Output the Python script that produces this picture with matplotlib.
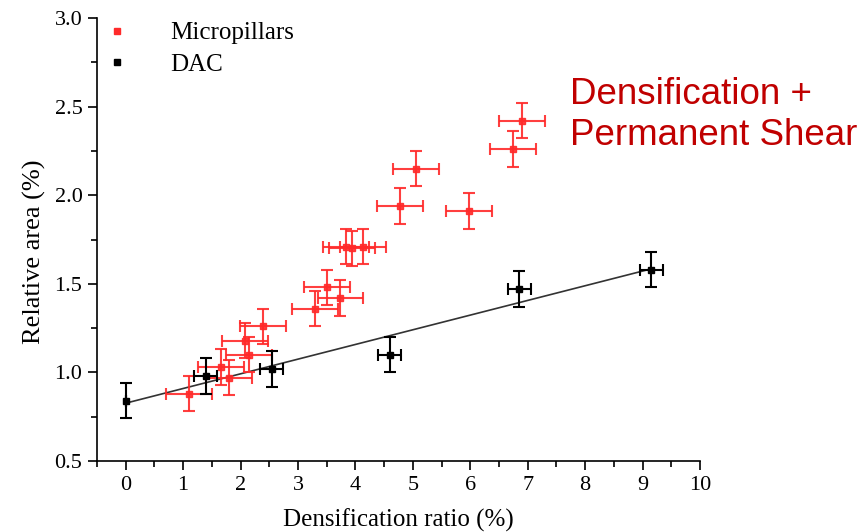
import numpy as np
import matplotlib
matplotlib.use('Agg')
import matplotlib.pyplot as plt
from matplotlib.lines import Line2D
from matplotlib.ticker import MultipleLocator, FormatStrFormatter

plt.rcParams['font.family'] = ['Liberation Serif', 'DejaVu Serif']

# Micropillars (red)
pillar_x = [1.10, 1.66, 1.80, 2.07, 2.15, 2.39, 3.30, 3.51, 3.74, 3.83, 3.94, 4.13, 4.77, 5.06, 5.98, 6.74, 6.90]
pillar_y = [0.88, 1.03, 0.97, 1.18, 1.10, 1.26, 1.36, 1.48, 1.42, 1.71, 1.70, 1.71, 1.94, 2.15, 1.91, 2.26, 2.42]
pillar_xerr = 0.4
pillar_yerr = 0.1

# DAC (black)
dac_x = [0.0, 1.39, 2.54, 4.60, 6.85, 9.15]
dac_y = [0.84, 0.98, 1.02, 1.10, 1.47, 1.58]
dac_xerr = [0.0, 0.2, 0.2, 0.2, 0.2, 0.2]
dac_yerr = 0.1

red = '#ff2a2a'

fig = plt.figure(figsize=(8.67, 5.32), dpi=100)
ax = fig.add_axes([97/867, 1 - 461/532, (700 - 97)/867, (461 - 18)/532])

# linear fit through the DAC points
slope, intercept = np.polyfit(dac_x, dac_y, 1)
fx = np.array([min(dac_x), max(dac_x)])
ax.plot(fx, intercept + slope * fx, color='#333333', lw=1.2, zorder=1)

ax.errorbar(pillar_x, pillar_y, xerr=pillar_xerr, yerr=pillar_yerr, fmt='s',
            color=red, ms=5, elinewidth=1.5, capsize=4, capthick=1.5, alpha=0.9, zorder=2)
ax.errorbar(dac_x, dac_y, xerr=dac_xerr, yerr=dac_yerr, fmt='s',
            color='black', ms=5, elinewidth=1.5, capsize=4, capthick=1.5, zorder=3)

ax.set_xlim(-0.5, 10)
ax.set_ylim(0.5, 3.0)
ax.xaxis.set_major_locator(MultipleLocator(1))
ax.xaxis.set_minor_locator(MultipleLocator(0.5))
ax.yaxis.set_major_locator(MultipleLocator(0.5))
ax.yaxis.set_minor_locator(MultipleLocator(0.25))
ax.yaxis.set_major_formatter(FormatStrFormatter('%.1f'))
for s in ['top', 'right']:
    ax.spines[s].set_visible(False)
for s in ['left', 'bottom']:
    ax.spines[s].set_linewidth(1.2)
ax.tick_params(which='major', direction='out', length=6.5, width=1.2, labelsize=16, pad=4)
ax.tick_params(which='minor', direction='out', length=4.3, width=1.2)

ax.set_xlabel('Densification ratio (%)', fontsize=18, labelpad=10)
ax.set_ylabel('Relative area (%)', fontsize=19)
ax.yaxis.set_label_coords(-0.085, 0.472)

handles = [Line2D([], [], ls='none', marker='s', ms=5, color=red, label='Micropillars'),
           Line2D([], [], ls='none', marker='s', ms=5, color='black', label='DAC')]
ax.legend(handles=handles, loc='upper left', bbox_to_anchor=(-0.023, 1.025), frameon=False,
          fontsize=18, handletextpad=1.4, borderaxespad=0.2, labelspacing=0.36,
          handlelength=1.5)

fig.text(570/867, 1 - 77/532, 'Densification +\nPermanent Shear', color='#c00000',
         fontsize=26.5, family=['Liberation Sans', 'DejaVu Sans'], ha='left', va='top',
         linespacing=1.22)

fig.savefig('out.png', dpi=100)
